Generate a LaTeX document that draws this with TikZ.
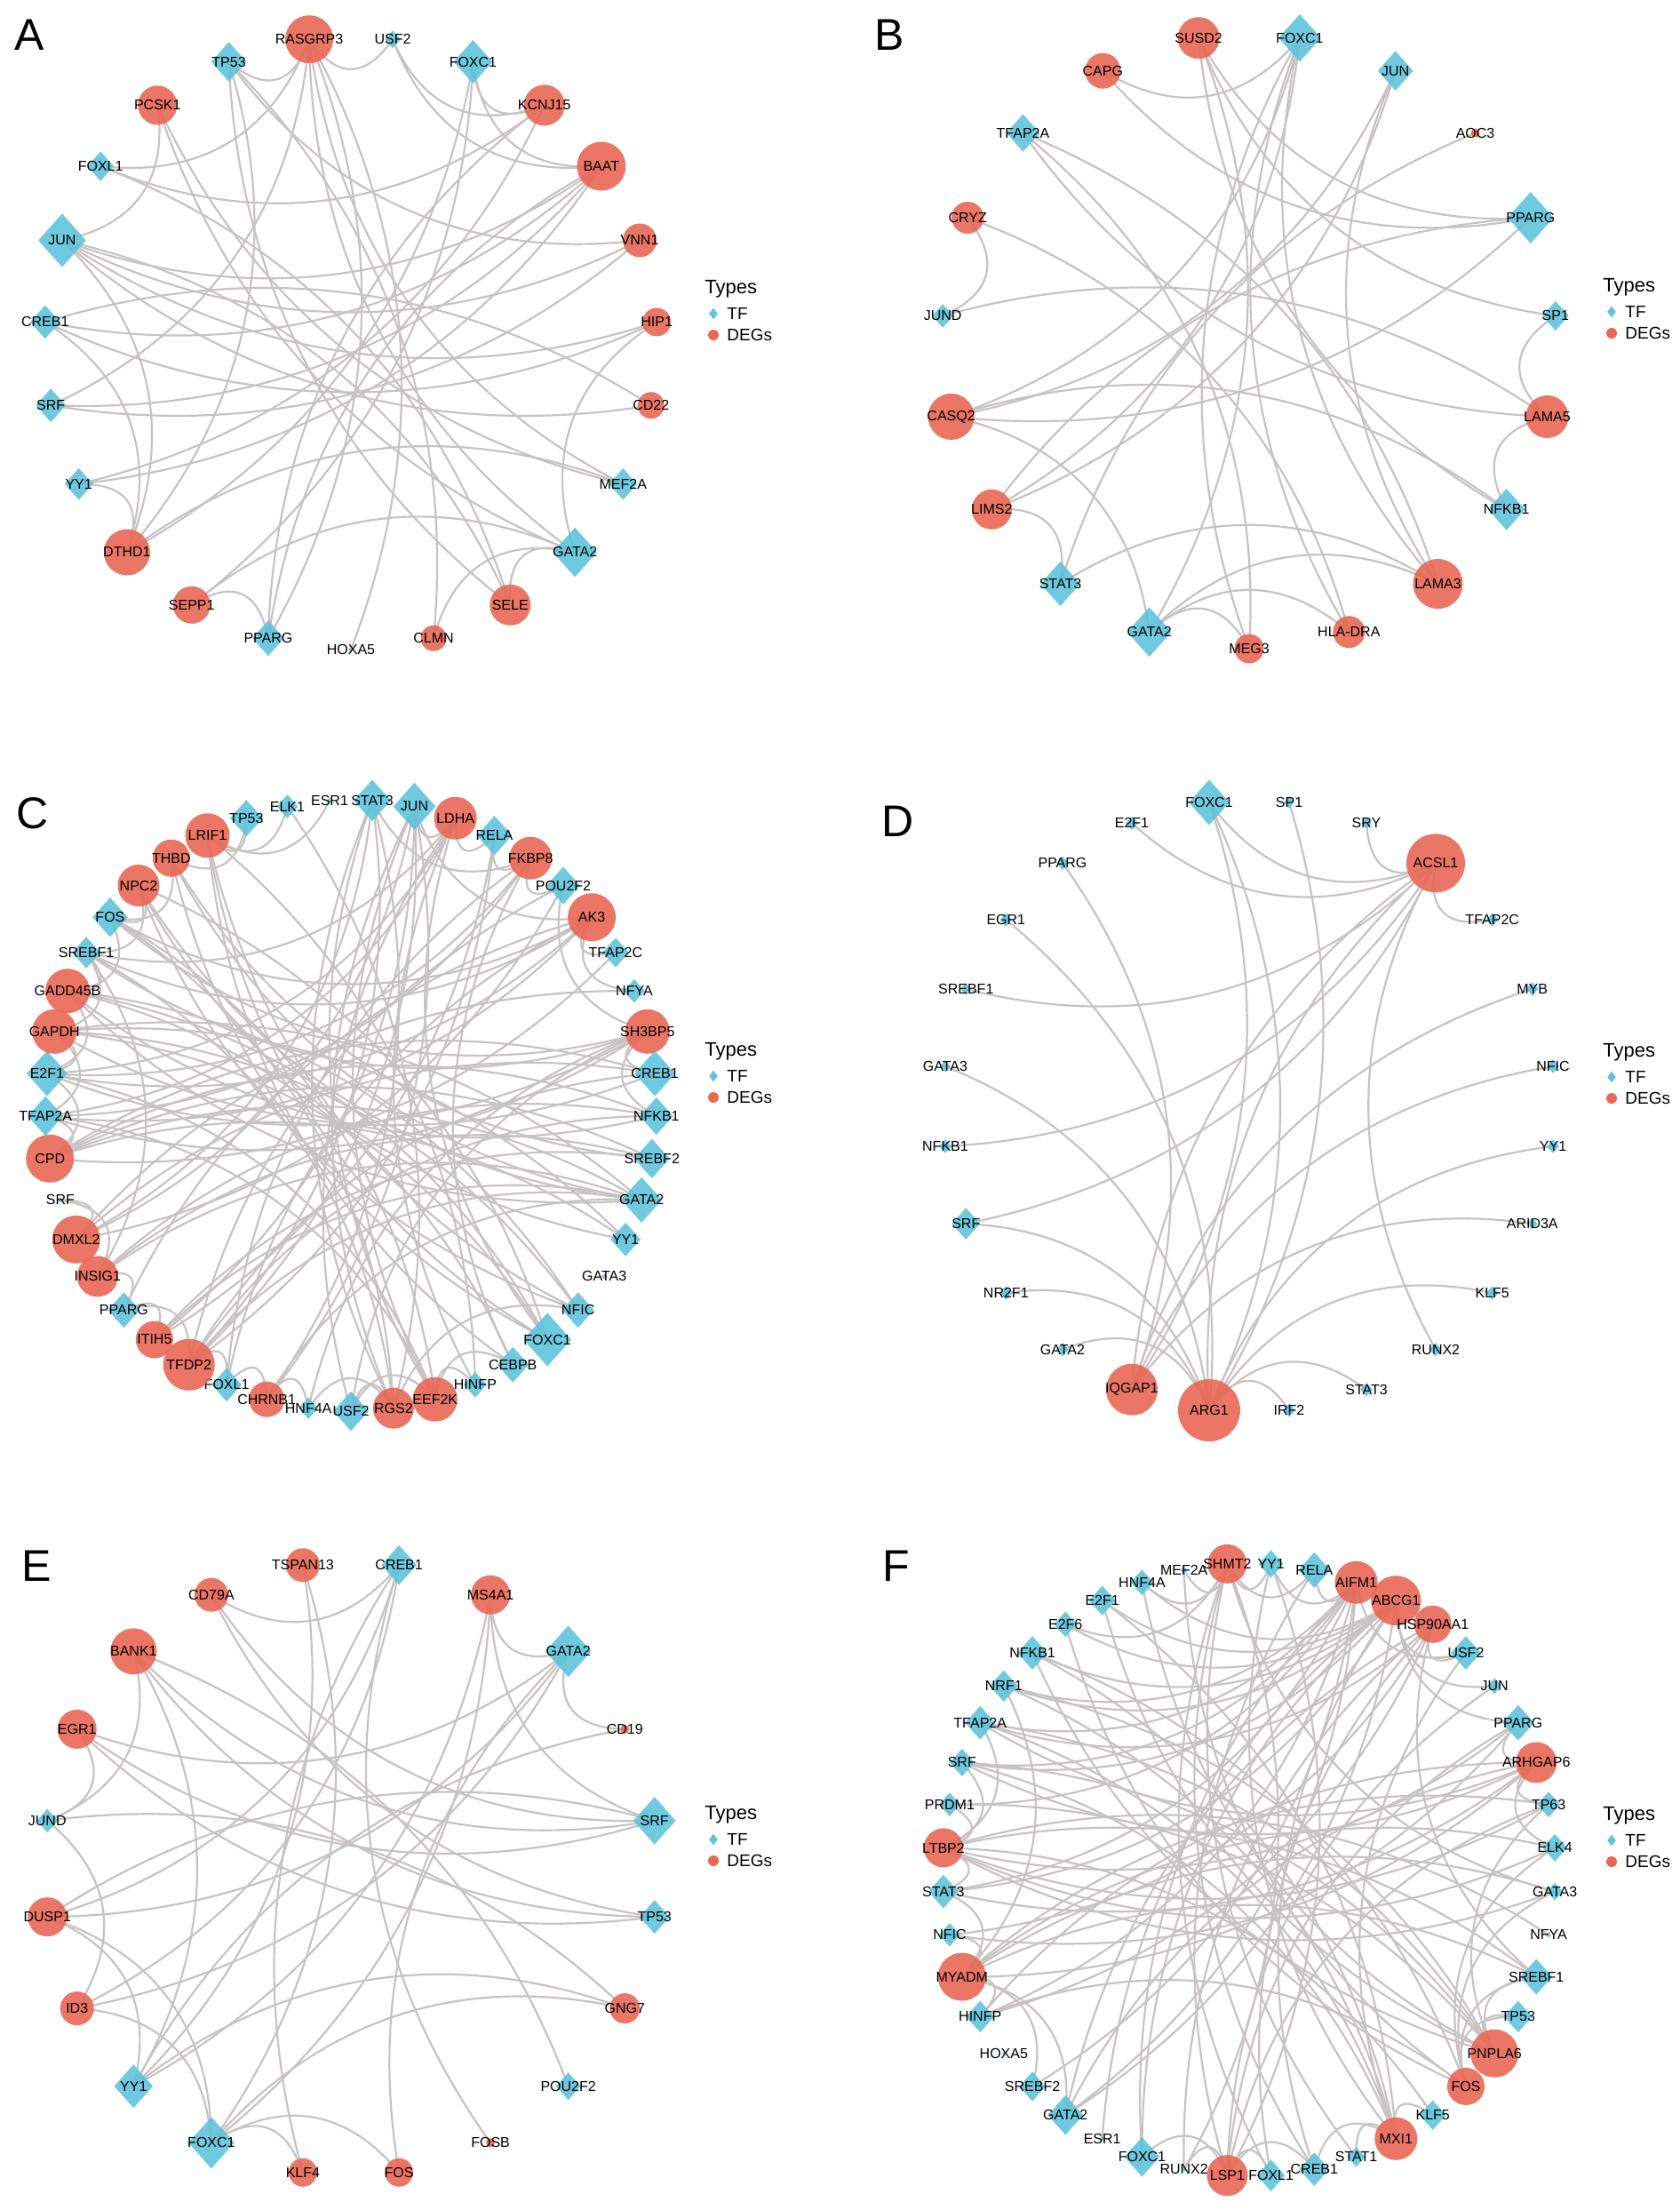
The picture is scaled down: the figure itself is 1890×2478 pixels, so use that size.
\documentclass[tikz,border=0pt]{standalone}
\usepackage{fontspec}
\setmainfont{Liberation Sans}
\usetikzlibrary{shapes.geometric,calc}
\pgfdeclarelayer{bg}
\pgfsetlayers{bg,main}

\definecolor{tfblue}{RGB}{95,196,219}
\definecolor{degred}{RGB}{233,103,84}
\definecolor{edgegrey}{RGB}{200,195,195}

\tikzset{
  tf/.style={diamond, fill=tfblue, fill opacity=0.9, inner sep=0pt,
    minimum width=\sz*0.5pt, minimum height=\sz*0.56pt},
  dg/.style={circle, fill=degred, fill opacity=0.9, inner sep=0pt,
    minimum size=\sz*0.5pt},
  lab/.style={font=\fontsize{8}{9}\selectfont, inner sep=0pt},
  % curved edge, bent towards the centre of its circle (\hub)
  edge/.style={draw=edgegrey, line width=1.1pt,
    to path={let \p1=($(\tikztotarget)-(\tikztostart)$),
      \p2=($(\hub)-($(\tikztostart)!0.5!(\tikztotarget)$)$),
      \n1={15*sqrt((\x1/100)^2+(\y1/100)^2)+9*sqrt((\x2/100)^2+(\y2/100)^2)},
      \n2={(\x1/100)*(\y2/100)-(\y1/100)*(\x2/100) > 0 ? 90 : -90}
      in .. controls ($($(\tikztostart)!0.33!(\tikztotarget)$)!\n1!\n2:(\tikztotarget)$)
      and ($($(\tikztostart)!0.67!(\tikztotarget)$)!\n1!\n2:(\tikztotarget)$) .. (\tikztotarget)}},
  panel/.style={font=\fontsize{25}{30}\selectfont, inner sep=0pt},
  legtitle/.style={font=\fontsize{11}{13}\selectfont, inner sep=0pt, anchor=west},
  legtext/.style={font=\fontsize{9.5}{11}\selectfont, inner sep=0pt, anchor=west},
  legtf/.style={diamond, fill=tfblue, inner sep=0pt, minimum width=5pt, minimum height=6.5pt},
  legdg/.style={circle, fill=degred, inner sep=0pt, minimum size=6pt},
}

% legend beside each circle, #1 = centre of the circle
\newcommand{\typeslegend}[1]{%
  \node[legtitle] (#1-types) at ($(#1)+(398,-61)$) {Types};
  \node[legtf] (#1-tf) at ($(#1)+(408,-33)$) {};
  \node[legtext] (#1-tft) at ($(#1)+(423,-33)$) {TF};
  \node[legdg] (#1-dg) at ($(#1)+(408,-9)$) {};
  \node[legtext] (#1-dgt) at ($(#1)+(423,-9)$) {DEGs};
}

\begin{document}
\begin{tikzpicture}[x=0.5pt, y=-0.5pt]
  \useasboundingbox (0,0) rectangle (1890,2478);

  % Panel A
  \begin{scope}
    \coordinate (a-c) at (395,386);
    \def\hub{a-c}
    \def\nn{23}
    \pgfmathsetmacro{\stp}{360/\nn}
    % nodes on the circle, clockwise from the top
    \foreach \lab/\typ/\sz [count=\i from 0] in {USF2/tf/18, FOXC1/tf/44, KCNJ15/dg/46, BAAT/dg/55,
      VNN1/dg/38, HIP1/dg/32, CD22/dg/30, MEF2A/tf/32, GATA2/tf/50, SELE/dg/46, CLMN/dg/29,
      HOXA5/tf/6, PPARG/tf/36, SEPP1/dg/42, DTHD1/dg/52, YY1/tf/32, SRF/tf/34, CREB1/tf/34,
      JUN/tf/54, FOXL1/tf/30, PCSK1/dg/44, TP53/tf/40, RASGRP3/dg/54} {
      \pgfmathsetmacro{\ang}{(\i+0.5)*\stp-90}
      \node[\typ] (a-\lab) at ($(a-c)+(\ang:345)$) {};
      \node[lab] (a-\lab-t) at (a-\lab) {\lab};
    }
    % edges
    \begin{pgfonlayer}{bg}
      \foreach \u/\v in {RASGRP3/USF2, RASGRP3/TP53, RASGRP3/GATA2, RASGRP3/PPARG, RASGRP3/MEF2A,
        RASGRP3/HOXA5, RASGRP3/SRF, RASGRP3/FOXL1,
        BAAT/JUN, BAAT/SRF, BAAT/CREB1, BAAT/YY1, BAAT/PPARG, BAAT/USF2, BAAT/FOXC1,
        DTHD1/YY1, DTHD1/FOXC1, DTHD1/JUN, DTHD1/CREB1, DTHD1/MEF2A, DTHD1/TP53,
        KCNJ15/FOXC1, KCNJ15/FOXL1, KCNJ15/YY1, KCNJ15/PPARG, KCNJ15/USF2,
        SELE/GATA2, SELE/TP53, SELE/JUN, SELE/FOXL1,
        PCSK1/JUN, PCSK1/GATA2, PCSK1/MEF2A,
        SEPP1/PPARG, SEPP1/FOXC1, SEPP1/GATA2,
        VNN1/JUN, VNN1/SRF, VNN1/TP53,
        HIP1/CREB1, HIP1/JUN, HIP1/GATA2,
        CD22/CREB1, CD22/JUN, CLMN/GATA2, CLMN/TP53}
        \draw[edge] (a-\u.center) to (a-\v.center);
    \end{pgfonlayer}
    \node[panel] (a-name) at (33,39) {A};
    \typeslegend{a-c}
  \end{scope}

  % Panel B
  \begin{scope}
    \coordinate (b-c) at (1406,384);
    \def\hub{b-c}
    \def\nn{19}
    \pgfmathsetmacro{\stp}{360/\nn}
    \foreach \lab/\typ/\sz [count=\i from 0] in {FOXC1/tf/48, JUN/tf/40, AOC3/dg/10, PPARG/tf/52,
      SP1/tf/30, LAMA5/dg/48, NFKB1/tf/42, LAMA3/dg/56, HLA-DRA/dg/36, MEG3/dg/33, GATA2/tf/50,
      STAT3/tf/45, LIMS2/dg/45, CASQ2/dg/52, JUND/tf/24, CRYZ/dg/36, TFAP2A/tf/38, CAPG/dg/40,
      SUSD2/dg/47} {
      \pgfmathsetmacro{\ang}{(\i+0.5)*\stp-90}
      \node[\typ] (b-\lab) at ($(b-c)+(\ang:346)$) {};
      \node[lab] (b-\lab-t) at (b-\lab) {\lab};
    }
    \begin{pgfonlayer}{bg}
      \foreach \u/\v in {FOXC1/CAPG, FOXC1/LIMS2, FOXC1/CASQ2, FOXC1/LAMA3, FOXC1/HLA-DRA, FOXC1/MEG3,
        JUN/CASQ2, JUN/LIMS2, JUN/LAMA3,
        SUSD2/PPARG, SUSD2/SP1, SUSD2/GATA2, SUSD2/NFKB1,
        CAPG/PPARG, TFAP2A/LAMA5, TFAP2A/LAMA3, TFAP2A/MEG3, AOC3/STAT3,
        CRYZ/JUND, CRYZ/HLA-DRA, PPARG/CASQ2, PPARG/LIMS2, JUND/LAMA5, SP1/LAMA5,
        CASQ2/GATA2, LAMA5/NFKB1, LIMS2/STAT3, GATA2/MEG3, GATA2/HLA-DRA, GATA2/LAMA3,
        NFKB1/CASQ2, STAT3/LAMA3}
        \draw[edge] (b-\u.center) to (b-\v.center);
    \end{pgfonlayer}
    \node[panel] (b-name) at (1001,39) {B};
    \typeslegend{b-c}
  \end{scope}

  % Panel C
  \begin{scope}
    \coordinate (c-c) at (395,1244);
    \def\hub{c-c}
    \def\nn{45}
    \pgfmathsetmacro{\stp}{360/\nn}
    \foreach \lab/\typ/\sz [count=\i from 0] in {STAT3/tf/42, JUN/tf/48, LDHA/dg/48, RELA/tf/40,
      FKBP8/dg/48, POU2F2/tf/38, AK3/dg/54, TFAP2C/tf/30, NFYA/tf/24, SH3BP5/dg/50, CREB1/tf/46,
      NFKB1/tf/38, SREBF2/tf/40, GATA2/tf/46, YY1/tf/34, GATA3/tf/6, NFIC/tf/36, FOXC1/tf/54,
      CEBPB/tf/36, HINFP/tf/26, EEF2K/dg/50, RGS2/dg/46, USF2/tf/40, HNF4A/tf/22, CHRNB1/dg/40,
      FOXL1/tf/34, TFDP2/dg/58, ITIH5/dg/42, PPARG/tf/36, INSIG1/dg/46, DMXL2/dg/54, SRF/tf/6,
      CPD/dg/54, TFAP2A/tf/40, E2F1/tf/46, GAPDH/dg/50, GADD45B/dg/50, SREBF1/tf/32, FOS/tf/40,
      NPC2/dg/47, THBD/dg/42, LRIF1/dg/50, TP53/tf/37, ELK1/tf/24, ESR1/tf/6} {
      \pgfmathsetmacro{\ang}{(\i+0.5)*\stp-90}
      \node[\typ] (c-\lab) at ($(c-c)+(\ang:344)$) {};
      \node[lab] (c-\lab-t) at (c-\lab) {\lab};
    }
    \begin{pgfonlayer}{bg}
      \foreach \u/\v in {LDHA/JUN, LDHA/RELA, LDHA/E2F1, LDHA/TFAP2A, LDHA/USF2, LDHA/FOXC1, LDHA/HINFP, LDHA/SREBF1,
        FKBP8/RELA, FKBP8/POU2F2, FKBP8/FOXL1, FKBP8/TFAP2A, FKBP8/E2F1, FKBP8/CEBPB, FKBP8/STAT3,
        AK3/TFAP2C, AK3/NFYA, AK3/TFAP2A, AK3/E2F1, AK3/PPARG, AK3/SREBF1, AK3/FOXL1, AK3/FOS, AK3/JUN,
        SH3BP5/CREB1, SH3BP5/NFKB1, SH3BP5/E2F1, SH3BP5/TFAP2A, SH3BP5/SREBF1, SH3BP5/FOS, SH3BP5/USF2,
        SH3BP5/HNF4A, SH3BP5/POU2F2,
        EEF2K/USF2, EEF2K/HINFP, EEF2K/CEBPB, EEF2K/JUN, EEF2K/STAT3, EEF2K/FOS, EEF2K/E2F1, EEF2K/TFAP2A,
        RGS2/USF2, RGS2/HNF4A, RGS2/JUN, RGS2/STAT3, RGS2/ELK1, RGS2/FOS, RGS2/SREBF1, RGS2/NFIC,
        CHRNB1/FOXL1, CHRNB1/HNF4A, CHRNB1/JUN, CHRNB1/STAT3, CHRNB1/GATA2,
        TFDP2/FOXL1, TFDP2/PPARG, TFDP2/JUN, TFDP2/STAT3, TFDP2/RELA, TFDP2/CREB1, TFDP2/GATA2,
        TFDP2/POU2F2, TFDP2/NFKB1,
        ITIH5/PPARG, ITIH5/JUN, ITIH5/RELA, ITIH5/SREBF2, ITIH5/GATA2,
        INSIG1/PPARG, INSIG1/SRF, INSIG1/SREBF2, INSIG1/SREBF1, INSIG1/NFKB1, INSIG1/GATA2,
        DMXL2/SRF, DMXL2/JUN, DMXL2/STAT3, DMXL2/POU2F2, DMXL2/CREB1, DMXL2/NFYA,
        CPD/TFAP2A, CPD/E2F1, CPD/CREB1, CPD/NFKB1, CPD/SREBF2, CPD/GATA2, CPD/YY1, CPD/TFAP2C,
        GAPDH/E2F1, GAPDH/TFAP2A, GAPDH/SREBF1, GAPDH/FOXC1, GAPDH/NFIC, GAPDH/CREB1, GAPDH/GATA2, GAPDH/YY1,
        GADD45B/SREBF1, GADD45B/E2F1, GADD45B/FOS, GADD45B/FOXC1, GADD45B/NFIC, GADD45B/NFKB1,
        GADD45B/CEBPB, GADD45B/GATA2,
        NPC2/FOS, NPC2/SREBF1, NPC2/GATA2, NPC2/FOXC1, NPC2/NFIC, NPC2/YY1,
        THBD/TP53, THBD/FOS, THBD/SREBF2, THBD/FOXC1, THBD/GATA2,
        LRIF1/TP53, LRIF1/ELK1, LRIF1/ESR1, LRIF1/FOXC1, LRIF1/NFIC, LRIF1/CEBPB, LRIF1/HINFP}
        \draw[edge] (c-\u.center) to (c-\v.center);
    \end{pgfonlayer}
    \node[panel] (c-name) at (37,915) {C};
    \typeslegend{c-c}
  \end{scope}

  % Panel D
  \begin{scope}
    \coordinate (d-c) at (1406,1245);
    \def\hub{d-c}
    \def\nn{24}
    \pgfmathsetmacro{\stp}{360/\nn}
    \foreach \lab/\typ/\sz [count=\i from 0] in {SP1/tf/12, SRY/tf/12, ACSL1/dg/66, TFAP2C/tf/14,
      MYB/tf/14, NFIC/tf/14, YY1/tf/14, ARID3A/tf/12, KLF5/tf/14, RUNX2/tf/14, STAT3/tf/14,
      IRF2/tf/14, ARG1/dg/70, IQGAP1/dg/58, GATA2/tf/14, NR2F1/tf/14, SRF/tf/32, NFKB1/tf/14,
      GATA3/tf/12, SREBF1/tf/12, EGR1/tf/14, PPARG/tf/14, E2F1/tf/14, FOXC1/tf/46} {
      \pgfmathsetmacro{\ang}{(\i+0.5)*\stp-90}
      \node[\typ] (d-\lab) at ($(d-c)+(\ang:345)$) {};
      \node[lab] (d-\lab-t) at (d-\lab) {\lab};
    }
    \begin{pgfonlayer}{bg}
      \foreach \u/\v in {ACSL1/SRY, ACSL1/TFAP2C, ACSL1/FOXC1, ACSL1/E2F1, ACSL1/SREBF1, ACSL1/NFKB1,
        ACSL1/SRF, ACSL1/RUNX2, ACSL1/IQGAP1, ACSL1/ARG1,
        IQGAP1/FOXC1, IQGAP1/PPARG, IQGAP1/MYB, IQGAP1/NFIC, IQGAP1/ARID3A,
        ARG1/FOXC1, ARG1/SP1, ARG1/EGR1, ARG1/GATA3, ARG1/SRF, ARG1/NR2F1, ARG1/GATA2, ARG1/STAT3,
        ARG1/IRF2, ARG1/YY1, ARG1/KLF5}
        \draw[edge] (d-\u.center) to (d-\v.center);
    \end{pgfonlayer}
    \node[panel] (d-name) at (1011,924) {D};
    \typeslegend{d-c}
  \end{scope}

  % Panel E
  \begin{scope}
    \coordinate (e-c) at (395,2103);
    \def\hub{e-c}
    \def\nn{20}
    \pgfmathsetmacro{\stp}{360/\nn}
    \foreach \lab/\typ/\sz [count=\i from 0] in {CREB1/tf/40, MS4A1/dg/44, GATA2/tf/52, CD19/dg/10,
      SRF/tf/48, TP53/tf/34, GNG7/dg/34, POU2F2/tf/28, FOSB/dg/10, FOS/dg/32, KLF4/dg/32,
      FOXC1/tf/52, YY1/tf/44, ID3/dg/38, DUSP1/dg/44, JUND/tf/24, EGR1/dg/44, BANK1/dg/52,
      CD79A/dg/38, TSPAN13/dg/38} {
      \pgfmathsetmacro{\ang}{(\i+0.5)*\stp-90}
      \node[\typ] (e-\lab) at ($(e-c)+(\ang:346)$) {};
      \node[lab] (e-\lab-t) at (e-\lab) {\lab};
    }
    \begin{pgfonlayer}{bg}
      \foreach \u/\v in {CREB1/CD79A, CREB1/KLF4, CREB1/FOSB, CREB1/DUSP1, CREB1/ID3,
        GATA2/MS4A1, GATA2/CD19, GATA2/EGR1, GATA2/DUSP1, GATA2/ID3, GATA2/FOS,
        SRF/EGR1, SRF/DUSP1, SRF/MS4A1, SRF/BANK1, SRF/CD79A,
        TP53/BANK1, TP53/EGR1, TP53/CD79A, POU2F2/BANK1,
        FOXC1/TSPAN13, FOXC1/MS4A1, FOXC1/KLF4, FOXC1/FOS, FOXC1/GNG7, FOXC1/ID3, FOXC1/DUSP1,
        YY1/MS4A1, YY1/CD19, YY1/DUSP1, YY1/GNG7, YY1/BANK1, YY1/TSPAN13,
        JUND/EGR1, JUND/GNG7, JUND/ID3, JUND/BANK1}
        \draw[edge] (e-\u.center) to (e-\v.center);
    \end{pgfonlayer}
    \node[panel] (e-name) at (41,1762) {E};
    \typeslegend{e-c}
  \end{scope}

  % Panel F
  \begin{scope}
    \coordinate (f-c) at (1406,2104);
    \def\hub{f-c}
    \def\nn{44}
    \pgfmathsetmacro{\stp}{360/\nn}
    \foreach \lab/\typ/\sz [count=\i from 0] in {YY1/tf/28, RELA/tf/36, AIFM1/dg/48, ABCG1/dg/56,
      HSP90AA1/dg/42, USF2/tf/34, JUN/tf/16, PPARG/tf/36, ARHGAP6/dg/46, TP63/tf/26, ELK4/tf/28,
      GATA3/tf/18, NFYA/tf/6, SREBF1/tf/36, TP53/tf/32, PNPLA6/dg/54, FOS/dg/42, KLF5/tf/30,
      MXI1/dg/48, STAT1/tf/20, CREB1/tf/34, FOXL1/tf/32, LSP1/dg/46, RUNX2/tf/6, FOXC1/tf/40,
      ESR1/tf/6, GATA2/tf/40, SREBF2/tf/30, HOXA5/tf/4, HINFP/tf/32, MYADM/dg/54, NFIC/tf/24,
      STAT3/tf/34, LTBP2/dg/44, PRDM1/tf/24, SRF/tf/28, TFAP2A/tf/34, NRF1/tf/32, NFKB1/tf/34,
      E2F6/tf/26, E2F1/tf/30, HNF4A/tf/26, MEF2A/tf/8, SHMT2/dg/44} {
      \pgfmathsetmacro{\ang}{(\i+0.5)*\stp-90}
      \node[\typ] (f-\lab) at ($(f-c)+(\ang:345)$) {};
      \node[lab] (f-\lab-t) at (f-\lab) {\lab};
    }
    \begin{pgfonlayer}{bg}
      \foreach \u/\v in {SHMT2/MEF2A, SHMT2/YY1, SHMT2/RELA, SHMT2/HNF4A, SHMT2/E2F6, SHMT2/CREB1,
        SHMT2/FOXL1, SHMT2/STAT1, SHMT2/RUNX2, SHMT2/GATA3,
        AIFM1/RELA, AIFM1/YY1, AIFM1/USF2, AIFM1/FOXC1, AIFM1/GATA2, AIFM1/SREBF2, AIFM1/HINFP,
        AIFM1/STAT3, AIFM1/SRF, AIFM1/PRDM1, AIFM1/TFAP2A, AIFM1/NRF1,
        ABCG1/USF2, ABCG1/JUN, ABCG1/PPARG, ABCG1/NFKB1, ABCG1/E2F1, ABCG1/E2F6, ABCG1/FOXC1,
        ABCG1/GATA2, ABCG1/ESR1, ABCG1/STAT3, ABCG1/SRF, ABCG1/CREB1, ABCG1/NRF1, ABCG1/HNF4A,
        HSP90AA1/USF2, HSP90AA1/SREBF1, HSP90AA1/FOXL1, HSP90AA1/GATA2, HSP90AA1/TFAP2A,
        HSP90AA1/NFIC, HSP90AA1/HINFP, HSP90AA1/RUNX2,
        ARHGAP6/PPARG, ARHGAP6/TP63, ARHGAP6/ELK4, ARHGAP6/STAT3, ARHGAP6/NFIC, ARHGAP6/HINFP,
        ARHGAP6/SRF, ARHGAP6/TFAP2A, ARHGAP6/GATA2,
        PNPLA6/TP53, PNPLA6/SREBF1, PNPLA6/NFKB1, PNPLA6/NRF1, PNPLA6/E2F1, PNPLA6/HNF4A,
        PNPLA6/TFAP2A, PNPLA6/SRF, PNPLA6/PRDM1, PNPLA6/TP63,
        FOS/TP53, FOS/SREBF1, FOS/HINFP, FOS/NFKB1, FOS/E2F6, FOS/MEF2A, FOS/GATA3, FOS/ELK4,
        MXI1/KLF5, MXI1/STAT1, MXI1/CREB1, MXI1/NFKB1, MXI1/NRF1, MXI1/E2F1, MXI1/SRF, MXI1/TFAP2A,
        MXI1/YY1, MXI1/USF2,
        LSP1/FOXL1, LSP1/CREB1, LSP1/RUNX2, LSP1/FOXC1, LSP1/YY1, LSP1/RELA, LSP1/PPARG, LSP1/JUN,
        LSP1/TP63,
        MYADM/HINFP, MYADM/NFIC, MYADM/STAT3, MYADM/GATA2, MYADM/SREBF2, MYADM/ELK4, MYADM/TP63,
        MYADM/PPARG, MYADM/GATA3, MYADM/SREBF1, MYADM/NRF1,
        LTBP2/PRDM1, LTBP2/SRF, LTBP2/TFAP2A, LTBP2/STAT3, LTBP2/ELK4, LTBP2/GATA3, LTBP2/TP63,
        LTBP2/PPARG, LTBP2/NFYA, LTBP2/SREBF1, LTBP2/KLF5}
        \draw[edge] (f-\u.center) to (f-\v.center);
    \end{pgfonlayer}
    \node[panel] (f-name) at (1009,1762) {F};
    \typeslegend{f-c}
  \end{scope}
\end{tikzpicture}
\end{document}
